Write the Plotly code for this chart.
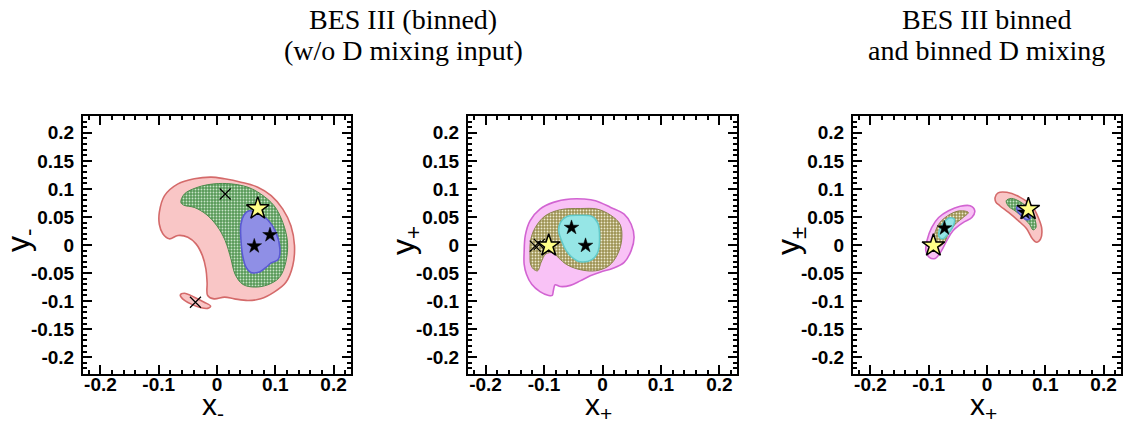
import plotly.graph_objects as go

# ---------------- data ----------------
# Panel 1: BES III binned, w/o D mixing input, (x-, y-)
p1_outer_x = [-0.099, -0.090, -0.067, -0.039, -0.010, 0.013, 0.041, 0.070, 0.093, 0.113, 0.127, 0.133, 0.130,
              0.118, 0.098, 0.075, 0.053, 0.030, 0.013, -0.005, -0.016, -0.017, -0.019, -0.025, -0.036, -0.050,
              -0.067, -0.082, -0.093, -0.099]
p1_outer_y = [0.058, 0.088, 0.109, 0.118, 0.121, 0.118, 0.112, 0.103, 0.088, 0.064, 0.034, -0.001, -0.037,
              -0.067, -0.084, -0.096, -0.099, -0.096, -0.093, -0.096, -0.090, -0.067, -0.043, -0.019, 0.002, 0.014,
              0.017, 0.011, 0.020, 0.037]
p1_island_x = [-0.063, -0.056, -0.039, -0.022, -0.011, -0.016, -0.027, -0.045, -0.059]
p1_island_y = [-0.089, -0.086, -0.093, -0.102, -0.109, -0.113, -0.112, -0.105, -0.096]
p1_mid_x = [-0.062, -0.056, -0.033, -0.005, 0.024, 0.053, 0.075, 0.098, 0.113, 0.121, 0.118, 0.107, 0.087,
            0.064, 0.044, 0.031, 0.024, 0.014, 0.000, -0.019, -0.039, -0.057]
p1_mid_y = [0.076, 0.091, 0.103, 0.109, 0.109, 0.103, 0.091, 0.070, 0.040, 0.005, -0.031, -0.058, -0.071,
            -0.075, -0.070, -0.052, -0.025, 0.008, 0.034, 0.055, 0.067, 0.071]
p1_inner_x = [0.046, 0.055, 0.070, 0.087, 0.101, 0.108, 0.105, 0.093, 0.084, 0.073, 0.058, 0.050, 0.044, 0.041, 0.041]
p1_inner_y = [0.053, 0.061, 0.057, 0.045, 0.023, -0.007, -0.026, -0.032, -0.040, -0.048, -0.049, -0.040, -0.019,
              0.011, 0.037]
p1_best_x = [0.064, 0.091]
p1_best_y = [-0.002, 0.018]
p1_cross_x = [0.014, -0.037]
p1_cross_y = [0.091, -0.102]
p1_ref_x = [0.070]
p1_ref_y = [0.065]

# Panel 2: (x+, y+)
p2_outer_x = [-0.134, -0.132, -0.124, -0.107, -0.084, -0.055, -0.032, -0.012, 0.014, 0.037, 0.049, 0.054, 0.049,
              0.037, 0.017, -0.003, -0.021, -0.038, -0.055, -0.072, -0.081, -0.084, -0.086, -0.092, -0.107, -0.121,
              -0.130, -0.134]
p2_outer_y = [-0.013, 0.017, 0.043, 0.064, 0.076, 0.082, 0.082, 0.079, 0.067, 0.055, 0.037, 0.014, -0.010,
              -0.031, -0.042, -0.048, -0.055, -0.064, -0.072, -0.074, -0.071, -0.081, -0.090, -0.090, -0.083, -0.070,
              -0.052, -0.034]
p2_mid_x = [-0.124, -0.123, -0.115, -0.098, -0.072, -0.038, -0.009, 0.014, 0.030, 0.033, 0.026, 0.011, -0.012,
            -0.038, -0.061, -0.075, -0.084, -0.097, -0.105, -0.111, -0.118, -0.123]
p2_mid_y = [-0.019, 0.008, 0.031, 0.052, 0.063, 0.065, 0.064, 0.053, 0.037, 0.011, -0.016, -0.037, -0.046,
            -0.044, -0.035, -0.023, -0.014, -0.016, -0.031, -0.046, -0.043, -0.034]
p2_inner_x = [-0.075, -0.072, -0.061, -0.038, -0.018, -0.008, -0.005, -0.008, -0.018, -0.038, -0.052, -0.062, -0.069]
p2_inner_y = [0.026, 0.040, 0.051, 0.053, 0.051, 0.039, 0.011, -0.013, -0.026, -0.030, -0.022, -0.010, 0.005]
p2_best_x = [-0.053, -0.029]
p2_best_y = [0.031, -0.001]
p2_cross_x = [-0.115, -0.108]
p2_cross_y = [-0.002, 0.001]
p2_ref_x = [-0.092]
p2_ref_y = [-0.001]

# Panel 3: BES III binned and binned D mixing, (x+-, y+-)
p3p_outer_x = [-0.021, -0.026, -0.041, -0.058, -0.069, -0.078, -0.089, -0.099, -0.105, -0.103, -0.095, -0.083,
               -0.066, -0.046, -0.029]
p3p_outer_y = [0.061, 0.049, 0.040, 0.026, 0.008, -0.010, -0.024, -0.022, -0.010, 0.008, 0.031, 0.049, 0.061,
               0.069, 0.070]
p3p_mid_x = [-0.032, -0.041, -0.055, -0.066, -0.075, -0.086, -0.092, -0.089, -0.081, -0.063, -0.046]
p3p_mid_y = [0.058, 0.049, 0.037, 0.020, 0.002, -0.004, 0.002, 0.023, 0.040, 0.055, 0.061]
p3p_inner_x = [-0.056, -0.058, -0.066, -0.076, -0.082, -0.082, -0.075, -0.065]
p3p_inner_y = [0.046, 0.034, 0.021, 0.011, 0.014, 0.026, 0.039, 0.048]
p3m_outer_x = [0.014, 0.019, 0.034, 0.057, 0.077, 0.088, 0.094, 0.092, 0.085, 0.078, 0.068, 0.054, 0.037, 0.022,
               0.015]
p3m_outer_y = [0.085, 0.093, 0.094, 0.085, 0.070, 0.049, 0.029, 0.011, 0.005, 0.011, 0.029, 0.043, 0.058, 0.070,
               0.077]
p3m_mid_x = [0.033, 0.042, 0.057, 0.071, 0.081, 0.084, 0.079, 0.073, 0.062, 0.048, 0.037]
p3m_mid_y = [0.079, 0.083, 0.077, 0.065, 0.049, 0.031, 0.027, 0.037, 0.049, 0.061, 0.069]
p3m_inner_x = [0.052, 0.062, 0.071, 0.074, 0.068, 0.059, 0.052]
p3m_inner_y = [0.069, 0.068, 0.058, 0.048, 0.045, 0.052, 0.061]
p3_best_x = [-0.073, 0.065]
p3_best_y = [0.030, 0.058]
p3_ref_x = [-0.092, 0.071]
p3_ref_y = [-0.001, 0.064]

x_ticks = [-0.2, -0.1, 0, 0.1, 0.2]
x_ticklabels = ["-0.2", "-0.1", "0", "0.1", "0.2"]
y_ticks = [-0.2, -0.15, -0.1, -0.05, 0, 0.05, 0.1, 0.15, 0.2]
y_ticklabels = ["-0.2", "-0.15", "-0.1", "-0.05", "0", "0.05", "0.1", "0.15", "0.2"]

x_titles = ["x<sub>-</sub>", "x<sub>+</sub>", "x<sub>+</sub>"]
y_titles = ["y<sub>-</sub>", "y<sub>+</sub>", "y<sub>±</sub>"]
title_lines = [("BES III (binned)", "(w/o D mixing input)"), ("BES III binned", "and binned D mixing")]

# ---------------- styles ----------------
W, H = 1123, 423
PINK = dict(fill="#f9c6c6", line="#d46a6a")
GREEN = dict(bg="#579957", fg="#c8e4c8", line="#4a8a4a")
BLUE = dict(fill="#8f8fe6", line="#5a5ad2")
MAGENTA = dict(fill="#f9c2f6", line="#d264d2")
OLIVE = dict(bg="#9c9252", fg="#eeead0", line="#8a824c")
CYAN = dict(fill="#96e6e6", line="#62caca")

fig = go.Figure()


def closed(v):
    return list(v) + [v[0]]


def solid(xs, ys, st, ax):
    fig.add_trace(go.Scatter(x=closed(xs), y=closed(ys), mode="lines", fill="toself",
                             fillcolor=st["fill"], line=dict(color=st["line"], width=1.6, shape="spline", smoothing=1.0),
                             xaxis="x" + ax, yaxis="y" + ax, hoverinfo="skip", showlegend=False))


def dotted(xs, ys, st, ax):
    fig.add_trace(go.Scatter(x=closed(xs), y=closed(ys), mode="lines", fill="toself",
                             fillcolor=st["bg"],
                             fillpattern=dict(shape=".", bgcolor=st["bg"], fgcolor=st["fg"], size=3, solidity=0.3,
                                              fillmode="replace"),
                             line=dict(color=st["line"], width=1.0, shape="spline", smoothing=1.0),
                             xaxis="x" + ax, yaxis="y" + ax, hoverinfo="skip", showlegend=False))


def stars(xs, ys, ax, big=False):
    if big:
        m = dict(symbol="star", size=17, color="#ffff88", line=dict(color="black", width=1.5))
    else:
        m = dict(symbol="star", size=11, color="black", line=dict(color="black", width=0.5))
    fig.add_trace(go.Scatter(x=xs, y=ys, mode="markers", marker=m, xaxis="x" + ax, yaxis="y" + ax,
                             hoverinfo="skip", showlegend=False))


def crosses(xs, ys, ax):
    fig.add_trace(go.Scatter(x=xs, y=ys, mode="markers",
                             marker=dict(symbol="x-thin-open", size=11, color="black",
                                         line=dict(color="black", width=1.2)),
                             xaxis="x" + ax, yaxis="y" + ax, hoverinfo="skip", showlegend=False))


# panel 1
solid(p1_outer_x, p1_outer_y, PINK, "")
solid(p1_island_x, p1_island_y, PINK, "")
dotted(p1_mid_x, p1_mid_y, GREEN, "")
solid(p1_inner_x, p1_inner_y, BLUE, "")
crosses(p1_cross_x, p1_cross_y, "")
stars(p1_best_x, p1_best_y, "")
stars(p1_ref_x, p1_ref_y, "", big=True)

# panel 2
solid(p2_outer_x, p2_outer_y, MAGENTA, "2")
dotted(p2_mid_x, p2_mid_y, OLIVE, "2")
solid(p2_inner_x, p2_inner_y, CYAN, "2")
crosses(p2_cross_x, p2_cross_y, "2")
stars(p2_best_x, p2_best_y, "2")
stars(p2_ref_x, p2_ref_y, "2", big=True)

# panel 3
solid(p3p_outer_x, p3p_outer_y, MAGENTA, "3")
dotted(p3p_mid_x, p3p_mid_y, OLIVE, "3")
solid(p3p_inner_x, p3p_inner_y, CYAN, "3")
solid(p3m_outer_x, p3m_outer_y, PINK, "3")
dotted(p3m_mid_x, p3m_mid_y, GREEN, "3")
solid(p3m_inner_x, p3m_inner_y, BLUE, "3")
stars(p3_best_x, p3_best_y, "3")
stars(p3_ref_x, p3_ref_y, "3", big=True)

# ---------------- axes ----------------
x_dom_px = [(83, 351), (468, 737), (853, 1121)]
y_dom = [(H - 374) / H, (H - 116) / H]
tickfont = dict(family="Liberation Sans", size=19, color="black", weight="bold")


def axis_common():
    return dict(range=[-0.23, 0.23], showgrid=False, zeroline=False, showline=True, linecolor="black",
                linewidth=2, mirror="ticks", ticks="inside", tickcolor="black", tickwidth=2, ticklen=9,
                tickfont=tickfont, fixedrange=True)


layout = dict(width=W, height=H, autosize=False, margin=dict(l=0, r=0, t=0, b=0),
              paper_bgcolor="white", plot_bgcolor="white", showlegend=False)
annotations = []
for i, (a, b) in enumerate(x_dom_px):
    suf = "" if i == 0 else str(i + 1)
    xa = axis_common()
    xa.update(domain=[a / W, b / W], anchor="y" + suf, tickmode="array", tickvals=x_ticks, ticktext=x_ticklabels,
              ticklabelstandoff=-8,
              minor=dict(ticks="inside", ticklen=4, tickwidth=2, tickcolor="black", tickmode="linear", tick0=0,
                         dtick=0.02))
    ya = axis_common()
    ya.update(domain=list(y_dom), anchor="x" + suf, tickmode="array", tickvals=y_ticks, ticktext=y_ticklabels,
              ticklabelstandoff=3,
              minor=dict(ticks="inside", ticklen=4, tickwidth=2, tickcolor="black", tickmode="linear", tick0=0,
                         dtick=0.01))
    layout["xaxis" + suf] = xa
    layout["yaxis" + suf] = ya
    cx = (a + b) / 2
    annotations.append(dict(text=x_titles[i], x=(cx - 4) / W, y=(H - 406) / H, xref="paper", yref="paper",
                            xanchor="center", yanchor="middle", showarrow=False,
                            font=dict(family="Liberation Sans", size=30, color="black")))
    annotations.append(dict(text=y_titles[i], x=(a - 63) / W, y=(H - 241) / H, xref="paper", yref="paper",
                            xanchor="center", yanchor="middle", textangle=-90, showarrow=False,
                            font=dict(family="Liberation Sans", size=32, color="black")))

title_cx = [403, 987]
for j, (l1, l2) in enumerate(title_lines):
    for k, (txt, cy) in enumerate([(l1, 20), (l2, 51)]):
        annotations.append(dict(text=txt, x=title_cx[j] / W, y=(H - cy) / H, xref="paper", yref="paper",
                                xanchor="center", yanchor="middle", showarrow=False,
                                font=dict(family="Liberation Serif", size=28, color="black")))
layout["annotations"] = annotations
fig.update_layout(**layout)

fig.write_html("out.html")
